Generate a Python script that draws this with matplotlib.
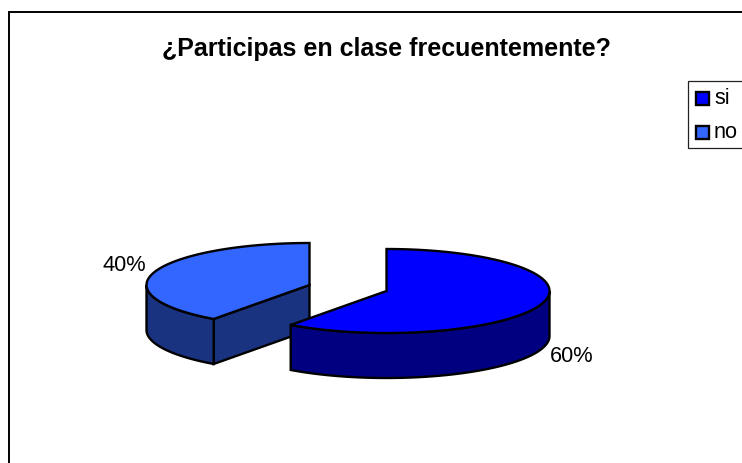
# -*- coding: utf-8 -*-
import numpy as np
from matplotlib import pyplot as plt
from matplotlib.patches import Polygon, Rectangle

plt.rcParams['font.family'] = ['Liberation Sans', 'DejaVu Sans']

title = u'¿Participas en clase frecuentemente?'
labels = ['si', 'no']
shares = [60, 40]
top_colors = ['#0000FF', '#3366FF']
side_colors = ['#000080', '#1A3380']

RX, RY, DEPTH = 163, 42, 45
LW = 1.7


def rim(cx, cy, a0, a1, dy=0):
    # a is degrees clockwise from 12 o'clock, ellipse squashed for the 3d look
    a = np.radians(np.linspace(a0, a1, 120))
    return np.column_stack([cx + RX * np.sin(a), cy + dy - RY * np.cos(a)])


def add(ax, pts, color):
    ax.add_patch(Polygon(pts, closed=True, facecolor=color, edgecolor='k',
                         linewidth=LW, joinstyle='miter'))


def slice_3d(ax, cx, cy, a0, a1, i):
    # walls first, only the part of the rim that faces us
    v0, v1 = max(a0, 90), min(a1, 270)
    if a0 > 90:
        p = rim(cx, cy, a0, a0)[0]
        add(ax, [(cx, cy), p, (p[0], p[1] + DEPTH), (cx, cy + DEPTH)], side_colors[i])
    if v1 > v0:
        add(ax, np.vstack([rim(cx, cy, v0, v1), rim(cx, cy, v1, v0, DEPTH)]), side_colors[i])
    add(ax, np.vstack([[(cx, cy)], rim(cx, cy, a0, a1)]), top_colors[i])


fig = plt.figure(figsize=(7.42, 4.64), dpi=100)
ax = fig.add_axes([0, 0, 1, 1])
ax.set_xlim(0, 742)
ax.set_ylim(464, 0)
ax.axis('off')

# chart frame, cut off on the right and at the bottom
ax.plot([9, 9, 742], [464, 13, 13], color='k', lw=1.4, solid_joinstyle='miter')

split = 360.0 * shares[0] / sum(shares)
slice_3d(ax, 309.5, 286, split, 360, 1)
slice_3d(ax, 386.5, 292, 0, split, 0)

ax.text(386, 49, title, ha='center', va='center', fontsize=18, fontweight='bold')
ax.text(571.5, 357, '%d%%' % shares[0], ha='center', va='center', fontsize=15.7)
ax.text(124.5, 266, '%d%%' % shares[1], ha='center', va='center', fontsize=15.7)

# legend
ax.add_patch(Rectangle((688, 82), 60, 67, facecolor='w', edgecolor='#222222', lw=0.9))
for i, y in enumerate([99, 133]):
    ax.add_patch(Rectangle((695.5, y - 6.5), 13, 13, facecolor=top_colors[i], edgecolor='k', lw=1.7))
    ax.text(714, y, labels[i], ha='left', va='center', fontsize=15.7)

fig.savefig('out.png', dpi=100)
